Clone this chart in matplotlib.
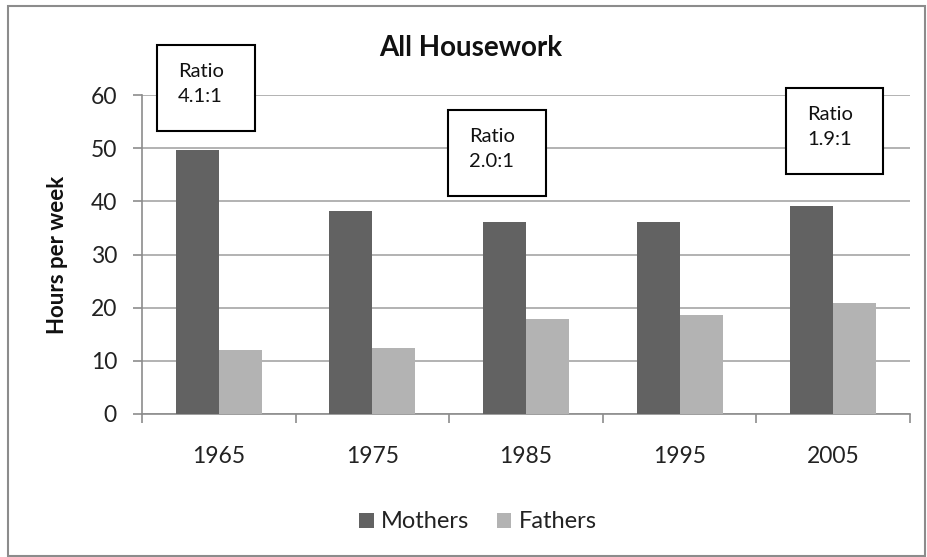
import matplotlib
matplotlib.use("Agg")
import matplotlib.pyplot as plt
from matplotlib.patches import Rectangle
import numpy as np

years = ["1965", "1975", "1985", "1995", "2005"]
mothers = [49.6, 38.1, 36.2, 36.2, 39.2]
fathers = [12.1, 12.5, 17.9, 18.7, 20.8]
ratio_labels = ["Ratio\n4.1:1", "Ratio\n2.0:1", "Ratio\n1.9:1"]
yticks = [0, 10, 20, 30, 40, 50, 60]

plt.rcParams['font.family'] = ['Lato', 'DejaVu Sans']

W, H = 927, 557
fig = plt.figure(figsize=(W / 100, H / 100), dpi=100)

def fx(px):
    return px / W

def fy(py):
    return 1 - py / H

ax = fig.add_axes([fx(142), fy(414), fx(910) - fx(142), fy(95) - fy(414)])

x = np.arange(len(years))
bw = 0.28
ax.bar(x - bw / 2, mothers, bw, color="#626262", label="Mothers", zorder=3)
ax.bar(x + bw / 2, fathers, bw, color="#b3b3b3", label="Fathers", zorder=3)

ax.set_xlim(-0.5, len(years) - 0.5)
ax.set_ylim(0, 60)
ax.set_yticks(yticks)
ax.set_yticklabels([str(v) for v in yticks])
ax.yaxis.grid(True, color="#a6a6a6", linewidth=1.2, zorder=0)
ax.set_axisbelow(True)

ax.set_xticks(x)
ax.set_xticklabels(years)
ax.set_xticks(np.arange(len(years) + 1) - 0.5, minor=True)
ax.tick_params(axis="x", which="major", length=0, pad=23, labelsize=16.5, labelcolor="#222222")
ax.tick_params(axis="x", which="minor", length=6.5, color="#8c8c8c", width=1.2)
ax.tick_params(axis="y", length=6.5, color="#8c8c8c", width=1.2, pad=11.5, labelsize=16.5,
               labelcolor="#222222")

for s in ["top", "right"]:
    ax.spines[s].set_visible(False)
for s in ["left", "bottom"]:
    ax.spines[s].set_color("#8c8c8c")
    ax.spines[s].set_linewidth(1.2)

fig.text(fx(58), fy(255), "Hours per week", rotation=90, ha="center", va="center",
         fontsize=16, fontweight="bold", color="#111111")
fig.text(fx(471), fy(48), "All Housework", ha="center", va="center",
         fontsize=20, fontweight="bold", color="#111111")

# ratio annotation boxes
boxes = [(157, 45, 255, 131), (448, 110, 546, 196), (786, 88, 883, 174)]
for (x0, y0, x1, y1), lab in zip(boxes, ratio_labels):
    fig.patches.append(Rectangle((fx(x0), fy(y1)), fx(x1) - fx(x0), fy(y0) - fy(y1),
                                 transform=fig.transFigure, facecolor="white",
                                 edgecolor="black", linewidth=1.5, zorder=5))
    fig.text(fx(x0 + 21), fy(y0 + 39), lab, ha="left", va="center", fontsize=14.5,
             linespacing=1.55, color="#111111", zorder=6)

# outer chart frame
fig.patches.append(Rectangle((fx(8), fy(556)), fx(925) - fx(8), fy(6) - fy(556),
                             transform=fig.transFigure, facecolor="none",
                             edgecolor="#8c8c8c", linewidth=1.5, zorder=1))

leg = fig.legend(loc="center", bbox_to_anchor=(fx(478), fy(522)), ncol=2, frameon=False,
                 fontsize=17, handlelength=0.6, handleheight=0.6, handletextpad=0.3,
                 columnspacing=1.2)
for t in leg.get_texts():
    t.set_color("#222222")

fig.savefig("out.png", dpi=100)
